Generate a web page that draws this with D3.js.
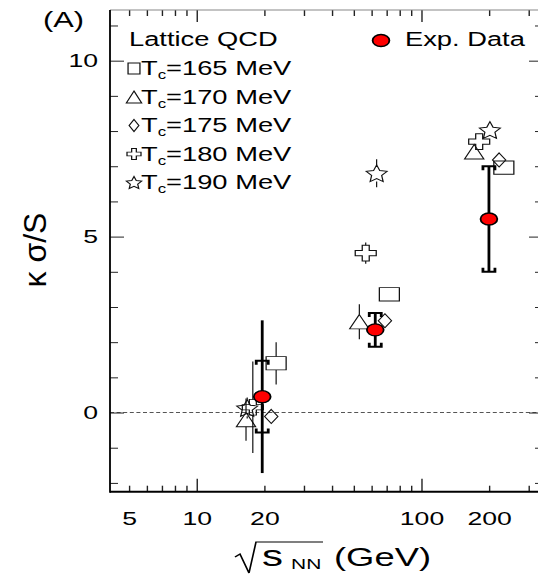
<!DOCTYPE html>
<html><head><meta charset="utf-8">
<script src="https://cdn.jsdelivr.net/npm/d3@7"></script>
<style>html,body{margin:0;padding:0;background:#fff;} svg{display:block;}</style>
</head><body><svg id="chart" width="538" height="574"></svg>
<script>
// ---------------- data ----------------
const expEnergy  = [19.6, 62.4, 200];
const expValue   = [0.45, 2.35, 5.5];
const expStatErr = [2.17, 0.47, 1.5];
const expSysErr  = [1.02, 0.48, 1.5];

const tc165Energy = [22.6, 72.1, 233];
const tc165Value  = [1.40, 3.36, 6.96];
const tc165Err    = [0.6, 0, 0];

const tc170Energy = [16.6, 53.0, 172];
const tc170Value  = [-0.2, 2.58, 7.41];
const tc170Err    = [0.6, 0.5, 0];

const tc175Energy = [21.5, 68.9, 222];
const tc175Value  = [-0.11, 2.61, 7.18];
const tc175Err    = [0, 0, 0];

const tc180Energy = [17.8, 56.6, 181];
const tc180Value  = [0.15, 4.53, 7.70];
const tc180Err    = [1.3, 0.3, 0];

const tc190Energy = [16.8, 63.3, 202];
const tc190Value  = [0.13, 6.80, 8.03];
const tc190Err    = [0.3, 0.4, 0];

const legendLabels = ["165", "170", "175", "180", "190"];
const xTickLabels  = [5, 10, 20, 100, 200];
const xMajorTicks  = [10, 100];
const xMinorTicks  = [5, 6, 7, 8, 9, 20, 30, 40, 50, 60, 70, 80, 90, 200, 300];
const yMajorTicks  = [0, 5, 10];
const yMinorTicks  = [-2, -1, 1, 2, 3, 4, 6, 7, 8, 9, 11];

// ---------------- drawing ----------------
const FONT = '"Liberation Sans", Arial, Helvetica, sans-serif';
const SX = 1.4;                 // horizontal stretch of the original picture
const L = px => px / SX;        // pixel -> logical x
const svg = d3.select("#chart");
svg.append("rect").attr("width", 538).attr("height", 574).attr("fill", "#fff");
const g = svg.append("g").attr("transform", `scale(${SX},1)`);

const x = d3.scaleLog().domain([4.12, 348]).range([L(110), L(543)]);
const y = d3.scaleLinear().domain([-2.25, 11.44]).range([491.7, 10]);

// zero line
g.append("line")
  .attr("x1", x.range()[0]).attr("x2", x.range()[1])
  .attr("y1", y(0)).attr("y2", y(0))
  .attr("stroke", "#555").attr("stroke-width", 1)
  .attr("stroke-dasharray", `${L(4)},${L(2.6)}`);

function shapePath(type, w, h) {
  const hw = w / 2, hh = h / 2;
  if (type === "square") return `M${-hw},${-hh}H${hw}V${hh}H${-hw}Z`;
  if (type === "triangle") return `M0,${-hh}L${hw},${hh}L${-hw},${hh}Z`;
  if (type === "diamond") return `M0,${-hh}L${hw},0L0,${hh}L${-hw},0Z`;
  if (type === "cross") {
    const aw = w / 6, ah = h / 6;
    const p = [[-aw,-hh],[aw,-hh],[aw,-ah],[hw,-ah],[hw,ah],[aw,ah],[aw,hh],[-aw,hh],[-aw,ah],[-hw,ah],[-hw,-ah],[-aw,-ah]];
    return "M" + p.map(d => d.join(",")).join("L") + "Z";
  }
  if (type === "star") {
    const sx = w / 1.902, sy = h / 1.809, cy = -0.0955;
    const pts = [];
    for (let k = 0; k < 10; k++) {
      const a = (-90 + k * 36) * Math.PI / 180;
      const r = k % 2 === 0 ? 1 : 0.48;
      pts.push([r * Math.cos(a) * sx, (r * Math.sin(a) - cy) * sy]);
    }
    return "M" + pts.map(d => d.join(",")).join("L") + "Z";
  }
}

const plotSize = {square: [14.3, 13.3], triangle: [13.8, 14.3], diamond: [9.5, 14], cross: [15, 15.7], star: [15, 16.7]};
const legSize  = {square: [8.5, 11], triangle: [11, 12], diamond: [7, 12], cross: [10, 11], star: [11, 12]};

const lattice = [
  {type: "square",   xs: tc165Energy, ys: tc165Value, es: tc165Err},
  {type: "triangle", xs: tc170Energy, ys: tc170Value, es: tc170Err},
  {type: "diamond",  xs: tc175Energy, ys: tc175Value, es: tc175Err},
  {type: "cross",    xs: tc180Energy, ys: tc180Value, es: tc180Err},
  {type: "star",     xs: tc190Energy, ys: tc190Value, es: tc190Err}
];

// lattice error bars (stop at marker edge) and markers
lattice.forEach(s => {
  const hh = plotSize[s.type][1] / 2;
  s.xs.forEach((xv, i) => {
    const e = s.es[i];
    if (e > 0) {
      const cx = x(xv), cy = y(s.ys[i]);
      const top = y(s.ys[i] + e), bot = y(s.ys[i] - e);
      if (top < cy - hh) g.append("line").attr("x1", cx).attr("x2", cx).attr("y1", top).attr("y2", cy - hh).attr("stroke", "#000").attr("stroke-width", 0.8);
      if (bot > cy + hh) g.append("line").attr("x1", cx).attr("x2", cx).attr("y1", cy + hh).attr("y2", bot).attr("stroke", "#000").attr("stroke-width", 0.8);
    }
  });
  g.selectAll(null).data(s.xs.map((xv, i) => [xv, s.ys[i]])).enter().append("path")
    .attr("d", shapePath(s.type, ...plotSize[s.type]))
    .attr("transform", d => `translate(${x(d[0])},${y(d[1])})`)
    .attr("fill", "none").attr("stroke", "#111").attr("stroke-width", 0.9);
});

// experimental data
const capHW = L(6), hook = 4;
expEnergy.forEach((xv, i) => {
  const cx = x(xv);
  g.append("line").attr("x1", cx).attr("x2", cx)
    .attr("y1", y(expValue[i] + expStatErr[i])).attr("y2", y(expValue[i] - expStatErr[i]))
    .attr("stroke", "#000").attr("stroke-width", 2);
  const yt = y(expValue[i] + expSysErr[i]), yb = y(expValue[i] - expSysErr[i]);
  g.append("path").attr("d", `M${cx - capHW},${yt + hook}V${yt}H${cx + capHW}V${yt + hook}`)
    .attr("fill", "none").attr("stroke", "#000").attr("stroke-width", 2);
  g.append("path").attr("d", `M${cx - capHW},${yb - hook}V${yb}H${cx + capHW}V${yb - hook}`)
    .attr("fill", "none").attr("stroke", "#000").attr("stroke-width", 2);
});
g.selectAll(null).data(expEnergy.map((xv, i) => [xv, expValue[i]])).enter().append("circle")
  .attr("cx", d => x(d[0])).attr("cy", d => y(d[1])).attr("r", 6)
  .attr("fill", "#ff0000").attr("stroke", "#000").attr("stroke-width", 1.3);

// legend
g.append("text").attr("x", L(129)).attr("y", 46.5).attr("font-family", FONT).attr("font-size", 19.5).text("Lattice QCD");
lattice.forEach((s, i) => {
  const cy = 68.5 + i * 28.5;
  g.append("path").attr("d", shapePath(s.type, ...legSize[s.type]))
    .attr("transform", `translate(${L(134)},${cy})`)
    .attr("fill", "none").attr("stroke", "#111").attr("stroke-width", 0.9);
  const t = g.append("text").attr("x", L(141)).attr("y", cy + 7).attr("font-family", FONT).attr("font-size", 19.5);
  t.append("tspan").text("T");
  t.append("tspan").attr("font-size", 12).attr("dy", 4).text("c");
  t.append("tspan").attr("dy", -4).text(`=${legendLabels[i]} MeV`);
});
g.append("circle").attr("cx", L(381)).attr("cy", 40.5).attr("r", 6)
  .attr("fill", "#ff0000").attr("stroke", "#000").attr("stroke-width", 1.3);
g.append("text").attr("x", L(405)).attr("y", 46.5).attr("font-family", FONT).attr("font-size", 19.5).text("Exp. Data");

// axes
function styleAxis(sel) {
  sel.select(".domain").remove();
  sel.selectAll("line").attr("stroke", "#222");
  sel.selectAll("text").attr("font-family", FONT).attr("font-size", 19).attr("fill", "#000");
}
const xl = L(110), xr = L(543), yb0 = 491.7, yt0 = 10;
g.append("g").attr("transform", `translate(${xl},0)`).call(d3.axisLeft(y).tickValues(yMinorTicks).tickSize(-L(8)).tickFormat(() => "")).call(styleAxis);
g.append("g").attr("transform", `translate(${xl},0)`).call(d3.axisLeft(y).tickValues(yMajorTicks).tickSize(-L(14)).tickPadding(L(12)).tickFormat(d3.format("d"))).call(styleAxis);
g.append("g").attr("transform", `translate(${xr},0)`).call(d3.axisRight(y).tickValues(yMinorTicks).tickSize(-L(8)).tickFormat(() => "")).call(styleAxis);
g.append("g").attr("transform", `translate(${xr},0)`).call(d3.axisRight(y).tickValues(yMajorTicks).tickSize(-L(14)).tickFormat(() => "")).call(styleAxis);
g.append("g").attr("transform", `translate(0,${yb0})`).call(d3.axisBottom(x).tickValues(xMinorTicks).tickSize(-6).tickFormat(() => "")).call(styleAxis);
g.append("g").attr("transform", `translate(0,${yb0})`).call(d3.axisBottom(x).tickValues(xMajorTicks).tickSize(-13).tickFormat(() => "")).call(styleAxis);
g.append("g").attr("transform", `translate(0,${yb0})`).call(d3.axisBottom(x).tickValues(xTickLabels).tickSize(0).tickPadding(19.8).tickFormat(d3.format("d"))).call(styleAxis);
g.append("g").attr("transform", `translate(0,${yt0})`).call(d3.axisTop(x).tickValues(xMinorTicks).tickSize(-6).tickFormat(() => "")).call(styleAxis);
g.append("g").attr("transform", `translate(0,${yt0})`).call(d3.axisTop(x).tickValues(xMajorTicks).tickSize(-12).tickFormat(() => "")).call(styleAxis);

g.append("line").attr("x1", xl).attr("x2", xr).attr("y1", yt0).attr("y2", yt0).attr("stroke", "#888").attr("stroke-width", 1);
g.append("line").attr("x1", xl).attr("x2", xr).attr("y1", yb0).attr("y2", yb0).attr("stroke", "#000").attr("stroke-width", 2);
g.append("line").attr("x1", xl).attr("x2", xl).attr("y1", yt0).attr("y2", yb0 + 1).attr("stroke", "#000").attr("stroke-width", 1.3);

// panel label
g.append("text").attr("x", L(43)).attr("y", 27).attr("font-family", FONT).attr("font-size", 22).text("(A)");

// x-axis title: sqrt(s_NN) (GeV)
g.append("path").attr("d", `M${L(235)},557L${L(240)},554L${L(249)},573L${L(256)},542H${L(323)}`)
  .attr("fill", "none").attr("stroke", "#000").attr("stroke-width", 1.2);
g.append("text").attr("x", L(262)).attr("y", 566).attr("font-family", FONT).attr("font-size", 30).text("s");
g.append("text").attr("x", L(291)).attr("y", 569).attr("font-family", FONT).attr("font-size", 15).text("NN");
g.append("text").attr("x", L(334)).attr("y", 566).attr("font-family", FONT).attr("font-size", 26).text("(GeV)");

// y-axis title
svg.append("text").attr("transform", "translate(46,250) rotate(-90)")
  .attr("text-anchor", "middle").attr("font-family", FONT).attr("font-size", 32).text("κ σ/S");
</script></body></html>
